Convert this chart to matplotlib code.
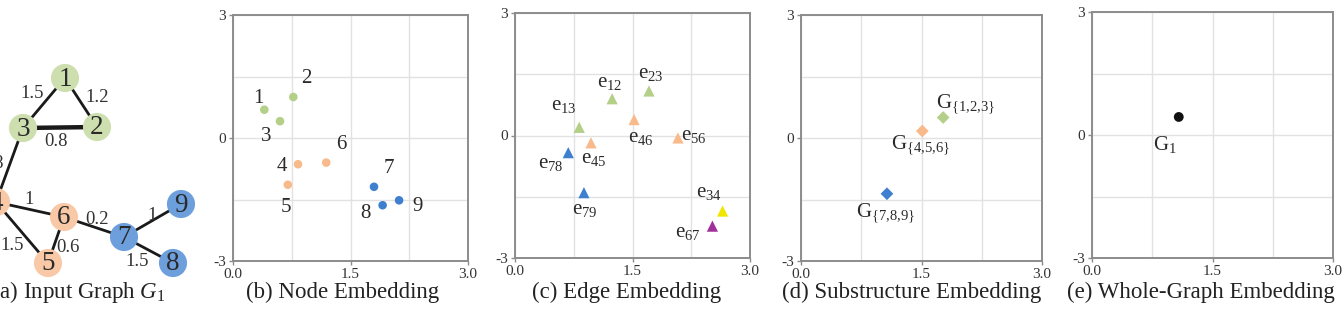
import matplotlib
matplotlib.use("Agg")
import matplotlib.pyplot as plt

plt.rcParams['font.family'] = ['Liberation Serif', 'DejaVu Serif']
plt.rcParams['mathtext.fontset'] = 'custom'
plt.rcParams['mathtext.rm'] = 'Liberation Serif'
plt.rcParams['mathtext.it'] = 'Liberation Serif:italic'

# ---------------- data ----------------
# (a) input graph: node layout (pixel-like layout units), labels, edges, weights
graph_nodes = ['1', '2', '3', '4', '5', '6', '7', '8', '9']
graph_x = [65, 97, 23, -4, 48, 64, 124, 173, 181]
graph_y = [78, 127, 128, 202, 263, 217, 237, 263, 204]
graph_group = ['g', 'g', 'g', 'o', 'o', 'o', 'b', 'b', 'b']
graph_edges = [('1', '2'), ('1', '3'), ('2', '3'), ('3', '4'), ('4', '6'),
               ('4', '5'), ('5', '6'), ('6', '7'), ('7', '9'), ('7', '8')]
edge_weights = ['1.2', '1.5', '0.8', '0.8', '1', '1.5', '0.6', '0.2', '1', '1.5']
edge_label_x = [97, 32, 56, 4, 29, 12, 68, 97, 152, 137]
edge_label_y = [97, 93, 141, 163, 199, 246, 248, 220, 216, 262]

# (b) node embedding
node_labels = ['1', '2', '3', '4', '5', '6', '7', '8', '9']
node_x = [0.40, 0.77, 0.60, 0.83, 0.70, 1.19, 1.80, 1.91, 2.12]
node_y = [0.69, 1.00, 0.41, -0.64, -1.14, -0.60, -1.19, -1.64, -1.52]
node_group = ['g', 'g', 'g', 'o', 'o', 'o', 'b', 'b', 'b']
node_lab_x = [0.32, 0.94, 0.43, 0.63, 0.67, 1.38, 1.99, 1.69, 2.35]
node_lab_y = [0.96, 1.45, 0.03, -0.70, -1.70, -0.15, -0.74, -1.84, -1.66]

# (c) edge embedding
edge_names = ['12', '23', '13', '45', '46', '56', '78', '79', '34', '67']
edge_x = [1.24, 1.71, 0.82, 0.97, 1.52, 2.08, 0.68, 0.88, 2.65, 2.52]
edge_y = [0.90, 1.09, 0.20, -0.18, 0.39, -0.06, -0.42, -1.40, -1.85, -2.22]
edge_group = ['g', 'g', 'g', 'o', 'o', 'o', 'b', 'b', 'y', 'p']
edge_lab_x = [1.21, 1.73, 0.62, 1.01, 1.60, 2.28, 0.46, 0.89, 2.47, 2.21]
edge_lab_y = [1.30, 1.51, 0.74, -0.56, -0.06, 0.01, -0.69, -1.81, -1.40, -2.38]

# (d) substructure embedding
sub_names = ['1,2,3', '4,5,6', '7,8,9']
sub_x = [1.77, 1.51, 1.07]
sub_y = [0.50, 0.17, -1.36]
sub_group = ['g', 'o', 'b']
sub_lab_x = [2.05, 1.49, 1.05]
sub_lab_y = [0.83, -0.17, -1.83]

# (e) whole-graph embedding
whole_names = ['1']
whole_x = [1.08]
whole_y = [0.44]
whole_lab_x = [0.91]
whole_lab_y = [-0.23]

captions = ['(b) Node Embedding', '(c) Edge Embedding',
            '(d) Substructure Embedding', '(e) Whole-Graph Embedding']
xtick_vals = [0.0, 1.5, 3.0]
xtick_labels = ['0.0', '1.5', '3.0']
ytick_vals = [-3, 0, 3]
ytick_labels = ['-3', '0', '3']

# ---------------- styles ----------------
mark_col = {'g': '#b3cf88', 'o': '#f8b98b', 'b': '#3f7fcf',
            'y': '#f0e600', 'p': '#a2309a', 'k': '#111111'}
node_fill = {'g': '#cddfae', 'o': '#f9c9a7', 'b': '#6c9fdc'}

W, H = 1344, 309
fig = plt.figure(figsize=(W / 100, H / 100), dpi=100)

# ---------------- (a) input graph ----------------
axa = fig.add_axes([0, 0, 210 / W, 1])
axa.set_xlim(0, 210)
axa.set_ylim(H, 0)
axa.axis('off')
pos = {n: (x, y) for n, x, y in zip(graph_nodes, graph_x, graph_y)}
for (u, v) in graph_edges:
    lw = 3.2 if (u, v) == ('2', '3') else 2.0
    axa.plot([pos[u][0], pos[v][0]], [pos[u][1], pos[v][1]],
             color='#1a1a1a', lw=lw, zorder=1, solid_capstyle='butt')
axa.scatter(graph_x, graph_y, s=410, c=[node_fill[g] for g in graph_group],
            edgecolors='none', zorder=2)
for n, x, y in zip(graph_nodes, graph_x, graph_y):
    axa.text(x, y + 1, n, ha='center', va='center', fontsize=19.5,
             color='#2a2a2a', zorder=3)
for w, x, y, in zip(edge_weights, edge_label_x, edge_label_y):
    ha = 'right' if x < 6 else 'center'
    axa.text(x, y, w, ha=ha, va='center', fontsize=13.5, color='#333333',
             zorder=3)
axa.text(-8, 298, r'(a) Input Graph $G_1$', ha='left', va='baseline',
         fontsize=16.5, color='#222222', clip_on=False)

# ---------------- panels b-e ----------------
boxes = [(233, 15, 468, 261), (515, 13, 750, 258),
         (801, 15, 1042, 261), (1092, 12, 1333, 258)]
axes = []
for (l, t, r, b) in boxes:
    ax = fig.add_axes([l / W, (H - b) / H, (r - l) / W, (b - t) / H])
    ax.set_xlim(0, 3)
    ax.set_ylim(-3, 3)
    ax.set_xticks(xtick_vals)
    ax.set_xticklabels(xtick_labels)
    ax.set_yticks(ytick_vals)
    ax.set_yticklabels(ytick_labels)
    ax.set_xticks([0.75, 2.25], minor=True)
    ax.set_yticks([-1.5, 1.5], minor=True)
    ax.grid(True, which='both', color='#e2e2e2', lw=1.0)
    ax.set_axisbelow(True)
    ax.tick_params(which='major', direction='out', length=3, width=1,
                   color='#8c8c8c', labelsize=11, labelcolor='#333333', pad=2)
    ax.tick_params(which='minor', length=0)
    for s in ax.spines.values():
        s.set_color('#8c8c8c')
        s.set_linewidth(1.4)
    axes.append(ax)

centers = [343, 627, 912, 1201]
for cap, cx in zip(captions, centers):
    fig.text(cx / W, (H - 298) / H, cap, ha='center', va='baseline',
             fontsize=16.5, color='#222222')

# (b)
ax = axes[0]
ax.scatter(node_x, node_y, s=38, c=[mark_col[g] for g in node_group],
           edgecolors='none', zorder=3)
for lab, x, y in zip(node_labels, node_lab_x, node_lab_y):
    ax.text(x, y, lab, ha='center', va='center', fontsize=15, color='#2a2a2a')

# (c)
ax = axes[1]
ax.scatter(edge_x, edge_y, s=65, marker='^',
           c=[mark_col[g] for g in edge_group], edgecolors='none', zorder=3)
for lab, x, y in zip(edge_names, edge_lab_x, edge_lab_y):
    ax.text(x, y, r'$\mathrm{e}_{%s}$' % lab, ha='center', va='center',
            fontsize=15, color='#2a2a2a')

# (d)
ax = axes[2]
ax.scatter(sub_x, sub_y, s=42, marker='D',
           c=[mark_col[g] for g in sub_group], edgecolors='none', zorder=3)
for lab, x, y in zip(sub_names, sub_lab_x, sub_lab_y):
    sub = lab.replace(',', '{,}')
    ax.text(x, y, r'$\mathrm{G}_{\{%s\}}$' % sub, ha='center', va='center',
            fontsize=15, color='#2a2a2a')

# (e)
ax = axes[3]
ax.scatter(whole_x, whole_y, s=50, c=mark_col['k'], edgecolors='none',
           zorder=3)
for lab, x, y in zip(whole_names, whole_lab_x, whole_lab_y):
    ax.text(x, y, r'$\mathrm{G}_{%s}$' % lab, ha='center', va='center',
            fontsize=15, color='#2a2a2a')

fig.savefig('out.png', dpi=100)
